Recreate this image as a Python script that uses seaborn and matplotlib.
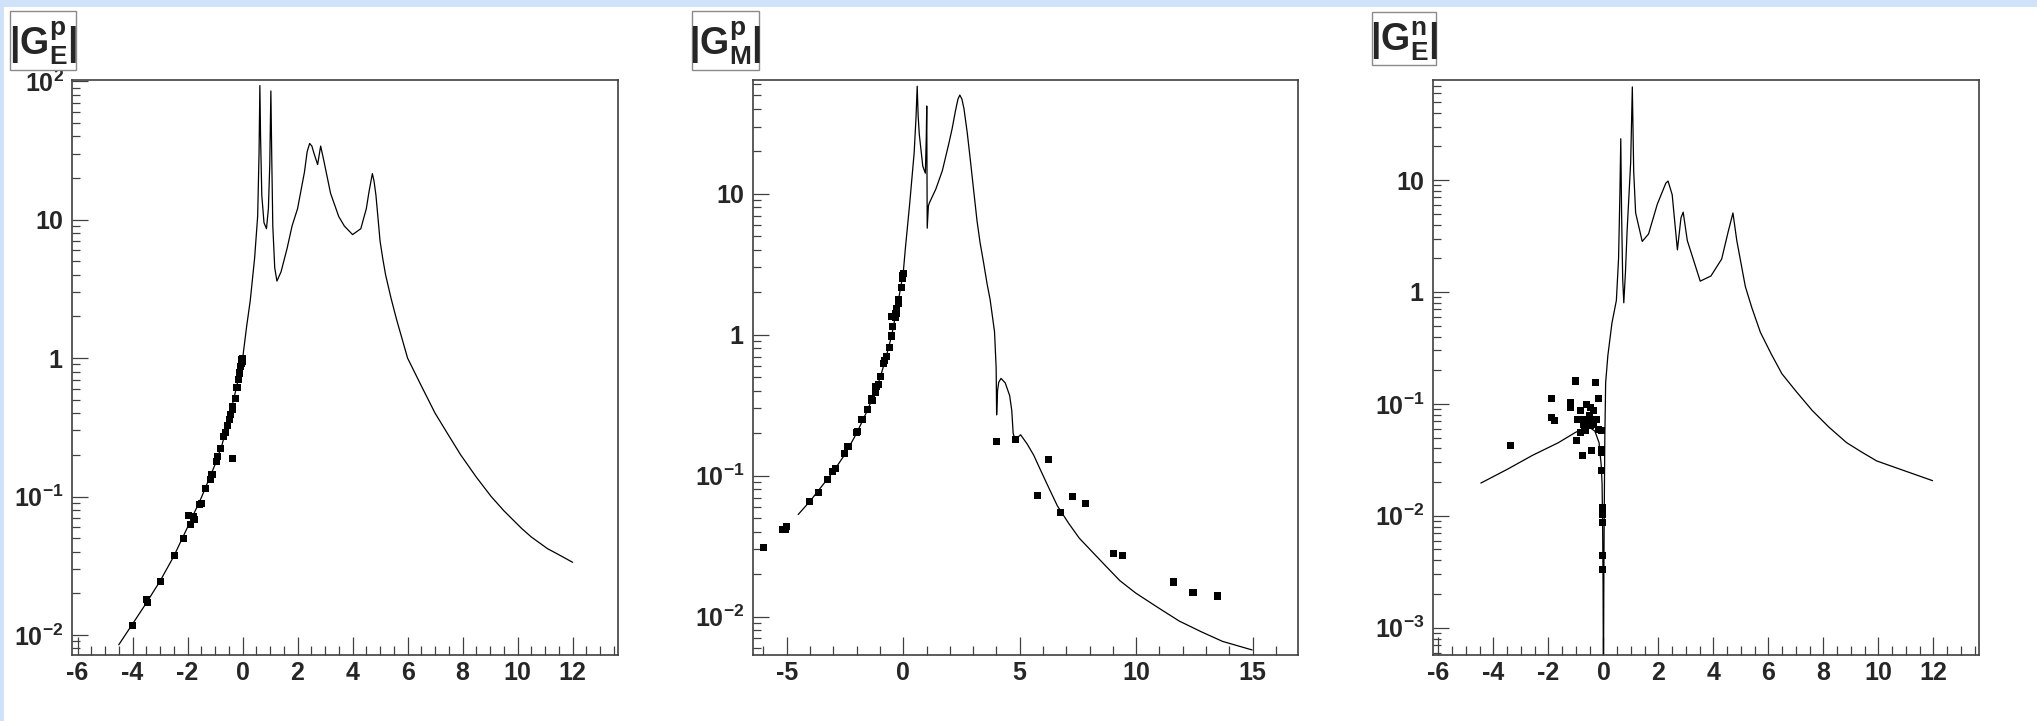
import numpy as np
import pandas as pd
import matplotlib
matplotlib.use("Agg")
import matplotlib.pyplot as plt
import seaborn as sns
from matplotlib.patches import Rectangle
from matplotlib.ticker import MultipleLocator, LogLocator, NullFormatter

# ---- panel 1 : |G_E^p| ----
ge_p_curve_x = [-4.50, -4.0, -3.5, -3.0, -2.5, -2.0, -1.5, -1.0, -0.75, -0.5, -0.25, 0.0,
                0.15, 0.28, 0.44, 0.55, 0.60, 0.63, 0.655, 0.70, 0.78, 0.87, 0.94, 0.99,
                1.03, 1.06, 1.10, 1.17, 1.25, 1.40, 1.62, 1.80, 2.00, 2.25, 2.35, 2.44, 2.52,
                2.60, 2.73, 2.84, 2.95, 3.2, 3.5, 3.7, 4.0, 4.3, 4.5, 4.6, 4.72, 4.78, 4.85,
                5.0, 5.1, 5.2, 5.4, 5.6, 6.0, 6.5, 7.0, 7.5, 7.93, 8.5, 9.04, 9.5, 10.14,
                10.5, 11.09, 11.5, 12.0]
ge_p_curve_y = [0.0085, 0.0120, 0.0170, 0.0245, 0.0370, 0.060, 0.098, 0.170, 0.235, 0.36, 0.58, 0.98,
                1.7, 2.6, 5.3, 10.6, 30, 93, 40, 15, 9.5, 8.6, 12, 25,
                85, 30, 9, 4.5, 3.6, 4.2, 6.2, 9.0, 12, 22, 31, 35.5, 34,
                30, 25, 34, 27, 15.5, 10.5, 9.0, 7.8, 8.6, 12, 16, 21.5, 19, 15,
                7.0, 5.2, 4.0, 2.7, 1.9, 1.0, 0.63, 0.40, 0.275, 0.20, 0.138, 0.10, 0.079, 0.059,
                0.051, 0.042, 0.038, 0.0335]
ge_p_data_x = [-3.99, -3.49, -3.47, -2.98, -2.48, -2.15, -1.97, -1.89, -1.78, -1.75, -1.56, -1.50,
               -1.36, -1.18, -1.11, -0.96, -0.92, -0.79, -0.68, -0.61, -0.54, -0.48, -0.43,
               -0.37, -0.35, -0.26, -0.20, -0.14, -0.10, -0.07, -0.05, -0.03, -0.02, -0.01,
               0.0, -0.38]
ge_p_data_y = [0.0117, 0.0181, 0.0172, 0.0244, 0.0374, 0.050, 0.073, 0.063, 0.072, 0.068, 0.088, 0.089,
               0.114, 0.132, 0.144, 0.179, 0.196, 0.223, 0.270, 0.292, 0.327, 0.361, 0.392,
               0.426, 0.45, 0.508, 0.611, 0.70, 0.78, 0.875, 0.92, 0.977, 0.95, 1.0,
               0.99, 0.188]

# ---- panel 2 : |G_M^p| ----
gm_p_curve_x = [-4.51, -4.0, -3.5, -3.0, -2.5, -2.0, -1.5, -1.0, -0.75, -0.5, -0.25, 0.0,
                0.09, 0.28, 0.47, 0.55, 0.60, 0.64, 0.69, 0.84, 0.95, 0.99, 1.01, 1.02,
                1.03, 1.08, 1.12, 1.40, 1.68, 1.96, 2.1, 2.24, 2.35, 2.43, 2.52, 2.61, 2.75,
                2.89, 3.0, 3.17, 3.3, 3.45, 3.6, 3.73, 3.92, 3.99, 4.01, 4.05, 4.10, 4.20,
                4.38, 4.57, 4.66, 4.72, 4.80, 5.04, 5.32, 5.6, 5.88, 6.25, 6.62, 7.1, 7.56,
                8.1, 8.68, 9.3, 9.98, 10.9, 11.85, 12.8, 13.71, 14.98]
gm_p_curve_y = [0.053, 0.066, 0.084, 0.107, 0.142, 0.20, 0.30, 0.49, 0.68, 0.98, 1.6, 2.75,
                4.06, 8.6, 19.6, 35, 58, 36, 26.4, 15.7, 14, 25, 42, 15,
                5.7, 8.2, 8.6, 10.8, 14.6, 22.8, 29, 38.6, 47, 50.2, 47, 40, 27,
                16.9, 11.5, 6.4, 4.5, 3.25, 2.3, 1.78, 1.05, 0.58, 0.27, 0.40, 0.46, 0.49,
                0.455, 0.37, 0.29, 0.20, 0.18, 0.195, 0.168, 0.14, 0.111, 0.082, 0.061, 0.046, 0.036,
                0.029, 0.023, 0.018, 0.0147, 0.0117, 0.0093, 0.0078, 0.00667, 0.0058]
gm_p_data_x = [-6.01, -5.2, -5.07, -5.0, -4.01, -3.64, -3.26, -3.04, -2.89, -2.52, -2.37, -2.01,
               -1.98, -1.77, -1.55, -1.53, -1.36, -1.34, -1.21, -1.17, -1.08, -0.97, -0.84,
               -0.79, -0.71, -0.60, -0.52, -0.47, -0.52, -0.35, -0.31, -0.28, -0.21, -0.19,
               -0.09, -0.04, -0.03, 0.0,
               4.01, 4.81, 5.75, 6.25, 6.75, 7.28, 7.84, 9.01, 9.42, 11.62, 12.44, 13.49]
gm_p_data_y = [0.031, 0.0413, 0.0418, 0.0435, 0.0657, 0.0763, 0.0935, 0.107, 0.113, 0.144, 0.162, 0.202,
               0.205, 0.25, 0.294, 0.295, 0.355, 0.342, 0.392, 0.429, 0.445, 0.506, 0.623,
               0.66, 0.698, 0.81, 0.98, 1.14, 1.35, 1.32, 1.42, 1.53, 1.67, 1.78,
               2.15, 2.5, 2.62, 2.73,
               0.174, 0.181, 0.0725, 0.131, 0.0545, 0.0708, 0.0638, 0.0282, 0.0271, 0.0176, 0.0149, 0.0140]

# ---- panel 3 : |G_E^n| ----
ge_n_curve_x = [-4.46, -3.5, -2.58, -1.64, -1.02, -0.55, -0.31, -0.16, -0.08, -0.05, -0.03, -0.015,
                -0.005, 0.0, 0.005, 0.015, 0.03, 0.05, 0.08, 0.16, 0.31, 0.47, 0.55, 0.60,
                0.63, 0.66, 0.70, 0.74, 0.80, 0.86, 0.99, 1.05, 1.10, 1.17, 1.41, 1.64,
                1.96, 2.27, 2.35, 2.50, 2.69, 2.82, 2.90, 3.05, 3.52, 3.91, 4.30, 4.54,
                4.71, 4.85, 5.16, 5.4, 5.71, 6.1, 6.49, 7.0, 7.59, 8.2, 8.84, 9.4, 9.94,
                11.0, 11.97]
ge_n_curve_y = [0.0196, 0.026, 0.0347, 0.045, 0.0556, 0.0628, 0.057, 0.045, 0.028, 0.0193, 0.008, 0.0025,
                0.0006, 0.00001, 0.0006, 0.003, 0.012, 0.05, 0.155, 0.27, 0.53, 0.84, 2.0, 8,
                23.4, 5, 1.3, 0.8, 1.5, 3.5, 14.4, 68, 12, 5.1, 2.83, 3.3,
                6.1, 9.4, 9.8, 7.4, 2.38, 4.6, 5.17, 2.88, 1.25, 1.39, 1.97, 3.48,
                5.08, 2.88, 1.12, 0.72, 0.435, 0.28, 0.186, 0.13, 0.0875, 0.062, 0.0451, 0.037, 0.0309,
                0.025, 0.0206]
ge_n_data_x = [-3.37, -1.88, -1.90, -1.79, -1.03, -1.21, -1.21, -0.30, -0.18, -0.60, -0.48, -0.36,
               -0.85, -0.95, -0.79, -0.60, -0.42, -0.27, -0.72, -0.48, -0.36, -0.67, -0.85,
               -0.18, -0.08, -0.99, -0.42, -0.75, -0.52, -0.40,
               -0.06, -0.06, -0.06, -0.05, -0.05, -0.05, -0.05, -0.05]
ge_n_data_y = [0.0428, 0.111, 0.0755, 0.0705, 0.16, 0.103, 0.0927, 0.155, 0.111, 0.099, 0.093, 0.0866,
               0.0866, 0.072, 0.072, 0.072, 0.072, 0.072, 0.0659, 0.0636, 0.068, 0.0574, 0.0554,
               0.0594, 0.0574, 0.0467, 0.0385, 0.0343, 0.078, 0.065,
               0.0394, 0.0367, 0.0252, 0.0118, 0.0103, 0.0087, 0.0044, 0.0033]

titles = [r"$|G^{p}_{E}|$", r"$|G^{p}_{M}|$", r"$|G^{n}_{E}|$"]
xlims = [(-6.2, 13.65), (-6.45, 16.95), (-6.2, 13.66)]
ylims = [(0.00717, 102), (0.00534, 64.2), (0.00057, 78.4)]
xticks = [[-6, -4, -2, 0, 2, 4, 6, 8, 10, 12], [-5, 0, 5, 10, 15],
          [-6, -4, -2, 0, 2, 4, 6, 8, 10, 12]]
yticks = [[0.01, 0.1, 1, 10, 100], [0.01, 0.1, 1, 10], [0.001, 0.01, 0.1, 1, 10]]
ylabels = [[r"$10^{-2}$", r"$10^{-1}$", r"$1$", r"$10$", r"$10^{2}$"],
           [r"$10^{-2}$", r"$10^{-1}$", r"$1$", r"$10$"],
           [r"$10^{-3}$", r"$10^{-2}$", r"$10^{-1}$", r"$1$", r"$10$"]]
xminor = [0.5, 1.0, 0.5]

curves = [(ge_p_curve_x, ge_p_curve_y), (gm_p_curve_x, gm_p_curve_y), (ge_n_curve_x, ge_n_curve_y)]
points = [(ge_p_data_x, ge_p_data_y), (gm_p_data_x, gm_p_data_y), (ge_n_data_x, ge_n_data_y)]

sns.set_theme(style="white")
plt.rcParams["font.family"] = ["Liberation Sans", "DejaVu Sans"]
plt.rcParams["font.weight"] = "bold"
plt.rcParams["mathtext.fontset"] = "custom"
plt.rcParams["mathtext.rm"] = "Liberation Sans:bold"
plt.rcParams["mathtext.it"] = "Liberation Sans:bold"
plt.rcParams["mathtext.bf"] = "Liberation Sans:bold"
plt.rcParams["mathtext.default"] = "rm"

W, H = 2037, 721
fig = plt.figure(figsize=(W / 100, H / 100), dpi=100)
fig.patch.set_facecolor("white")

# pixel boxes (left, right) of each frame; all share top=80, bottom=655
frames = [(72, 618), (753, 1298), (1433, 1979)]
title_boxes = [(10, 76, 11, 70), (692, 759, 11, 70), (1372, 1436, 12, 65)]
frame_col = "#404040"

for i in range(3):
    l, r = frames[i]
    ax = fig.add_axes([l / W, (H - 655) / H, (r - l) / W, 575 / H])
    ax.set_yscale("log")
    cdf = pd.DataFrame({"x": curves[i][0], "y": curves[i][1]})
    ddf = pd.DataFrame({"x": points[i][0], "y": points[i][1]})
    sns.lineplot(data=cdf, x="x", y="y", ax=ax, sort=False, estimator=None,
                 color="black", linewidth=0.9)
    sns.scatterplot(data=ddf, x="x", y="y", ax=ax, marker="s", s=26,
                    color="black", edgecolor="none", zorder=3)
    ax.set_xlim(*xlims[i])
    ax.set_ylim(*ylims[i])
    ax.set_xlabel("")
    ax.set_ylabel("")
    ax.set_xticks(xticks[i], [str(t) for t in xticks[i]])
    ax.xaxis.set_minor_locator(MultipleLocator(xminor[i]))
    ax.set_yticks(yticks[i], ylabels[i])
    ax.yaxis.set_minor_locator(LogLocator(base=10, subs=np.arange(2, 10)))
    ax.yaxis.set_minor_formatter(NullFormatter())
    ax.tick_params(which="both", direction="in", bottom=True, left=True,
                   top=False, right=False, color=frame_col, width=0.9)
    ax.tick_params(axis="x", which="major", length=13, pad=4, labelsize=18)
    ax.tick_params(axis="x", which="minor", length=6.5)
    ax.tick_params(axis="y", which="major", length=11.5, pad=6, labelsize=18)
    ax.tick_params(axis="y", which="minor", length=5.8)
    for s in ax.spines.values():
        s.set_color(frame_col)
        s.set_linewidth(1.2)

    bx0, bx1, by0, by1 = title_boxes[i]
    fig.patches.append(Rectangle((bx0 / W, 1 - by1 / H), (bx1 - bx0) / W, (by1 - by0) / H,
                                 transform=fig.transFigure, facecolor="white",
                                 edgecolor="#8a8a8a", linewidth=1.0, zorder=1))
    fig.text((bx0 + bx1) / 2 / W, 1 - (by0 + by1) / 2 / H - 0.004, titles[i], fontsize=27,
             ha="center", va="center", zorder=2)

# light blue window frame along the top and left edges
fig.patches.append(Rectangle((0, 1 - 7 / H), 1, 7 / H, transform=fig.transFigure,
                             facecolor="#cfe2fa", edgecolor="none", zorder=0))
fig.patches.append(Rectangle((0, 0), 4 / W, 1, transform=fig.transFigure,
                             facecolor="#cfe2fa", edgecolor="none", zorder=0))

fig.savefig("out.png", dpi=100)
